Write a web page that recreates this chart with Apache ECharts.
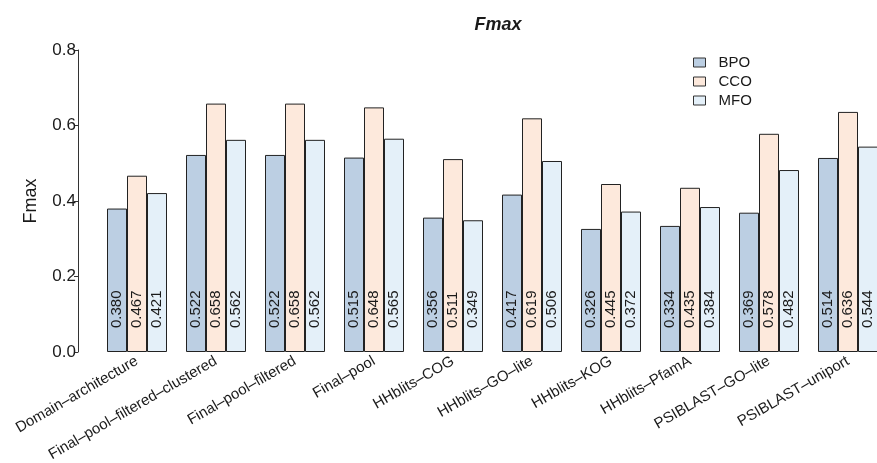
<!DOCTYPE html>
<html>
<head>
<meta charset="utf-8">
<script src="https://cdn.jsdelivr.net/npm/echarts@6/dist/echarts.min.js"></script>
<style>
  html, body { margin: 0; padding: 0; background: #fff; }
  #chart { width: 877px; height: 463px; }
</style>
</head>
<body>
<div id="chart"></div>
<script>
// Methods compared
const categories = [
  'Domain–architecture',
  'Final–pool–filtered–clustered',
  'Final–pool–filtered',
  'Final–pool',
  'HHblits–COG',
  'HHblits–GO–lite',
  'HHblits–KOG',
  'HHblits–PfamA',
  'PSIBLAST–GO–lite',
  'PSIBLAST–uniport'
];

// Fmax per ontology
const bpo = [0.380, 0.522, 0.522, 0.515, 0.356, 0.417, 0.326, 0.334, 0.369, 0.514];
const cco = [0.467, 0.658, 0.658, 0.648, 0.511, 0.619, 0.445, 0.435, 0.578, 0.636];
const mfo = [0.421, 0.562, 0.562, 0.565, 0.349, 0.506, 0.372, 0.384, 0.482, 0.544];

const yTicks = [0, 0.2, 0.4, 0.6, 0.8];

const FONT = 'Liberation Sans, Arial, Helvetica, sans-serif';
const TXT = '#1a1a1a';

function makeSeries(name, data, color) {
  return {
    name: name,
    type: 'bar',
    data: data,
    barWidth: 20,
    barGap: '0%',
    itemStyle: { color: color, borderColor: '#222', borderWidth: 1 },
    label: {
      show: true,
      position: 'insideBottom',
      distance: 24,
      rotate: 90,
      align: 'left',
      verticalAlign: 'middle',
      fontFamily: FONT,
      fontSize: 15,
      color: TXT,
      formatter: p => p.value.toFixed(3)
    },
    emphasis: { disabled: true }
  };
}

const chart = echarts.init(document.getElementById('chart'), null, { renderer: 'canvas' });
chart.setOption({
  animation: false,
  backgroundColor: '#fff',
  title: {
    text: 'Fmax',
    left: 493,
    top: 11,
    textAlign: 'center',
    textStyle: { fontFamily: FONT, fontSize: 18, fontWeight: 'bold', fontStyle: 'italic', color: TXT }
  },
  legend: {
    orient: 'vertical',
    left: 693,
    top: 55,
    padding: 0,
    itemWidth: 12,
    itemHeight: 9,
    itemGap: 4,
    icon: 'rect',
    itemStyle: { borderColor: '#333', borderWidth: 1 },
    textStyle: { fontFamily: FONT, fontSize: 15, color: TXT, lineHeight: 15, padding: [0, 0, 0, 8] },
    data: ['BPO', 'CCO', 'MFO']
  },
  grid: {
    left: 97.5, width: 790, top: 50, bottom: 111,
    containLabel: false,
    outerBoundsMode: 'none'
  },
  xAxis: {
    type: 'category',
    data: categories,
    axisLine: { show: false },
    axisTick: { show: false },
    axisLabel: {
      rotate: 30,
      interval: 0,
      margin: 8,
      fontFamily: FONT,
      fontSize: 15,
      color: TXT
    }
  },
  yAxis: {
    type: 'value',
    min: 0,
    max: 0.8,
    interval: 0.2,
    offset: 19.5,
    name: 'Fmax',
    nameLocation: 'middle',
    nameGap: 38,
    nameTextStyle: { fontFamily: FONT, fontSize: 18, color: TXT },
    splitLine: { show: false },
    axisLine: { show: true, lineStyle: { color: '#333', width: 1 } },
    axisTick: { show: true, length: 4, lineStyle: { color: '#333' } },
    axisLabel: {
      margin: 2,
      fontFamily: FONT,
      fontSize: 17,
      color: TXT,
      formatter: v => yTicks.includes(+v.toFixed(1)) ? v.toFixed(1) : ''
    }
  },
  series: [
    makeSeries('BPO', bpo, '#bccfe3'),
    makeSeries('CCO', cco, '#fde9dc'),
    makeSeries('MFO', mfo, '#e4f0f9')
  ]
});
</script>
</body>
</html>
